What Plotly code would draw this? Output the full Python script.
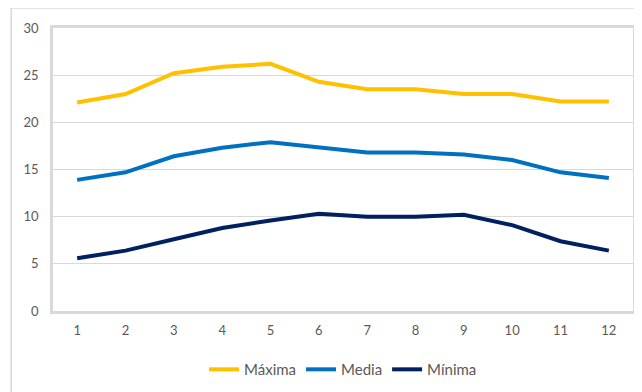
import plotly.graph_objects as go

months = [1, 2, 3, 4, 5, 6, 7, 8, 9, 10, 11, 12]
maxima = [22.1, 23.0, 25.2, 25.9, 26.2, 24.3, 23.5, 23.5, 23.0, 23.0, 22.2, 22.2]
media = [13.9, 14.7, 16.4, 17.3, 17.9, 17.4, 16.8, 16.8, 16.6, 16.0, 14.7, 14.1]
minima = [5.6, 6.4, 7.6, 8.8, 9.6, 10.3, 10.0, 10.0, 10.2, 9.1, 7.4, 6.4]

series = [("Máxima", maxima, "#FFC000"),
          ("Media", media, "#0070C0"),
          ("Mínima", minima, "#002060")]

font = "Lato, Carlito, 'Open Sans', sans-serif"

fig = go.Figure()
for name, vals, color in series:
    fig.add_trace(go.Scatter(x=[str(m) for m in months], y=vals, name=name,
                             mode="lines", line=dict(color=color, width=4)))

# page body adds an 8px offset, so the figure is drawn 8px smaller
W, H = 634, 384
l, r, t, b = 45, 6, 20, 80
pw, ph = W - l - r, H - t - b

fig.update_layout(
    width=W, height=H,
    margin=dict(l=l, r=r, t=t, b=b),
    paper_bgcolor="white", plot_bgcolor="white",
    font=dict(family=font, size=13, color="#595959"),
    showlegend=True,
    legend=dict(orientation="h", x=0.5, xanchor="center", y=-0.207, yanchor="middle",
                font=dict(size=15, color="#595959"), itemwidth=30,
                tracegroupgap=0),
    xaxis=dict(type="category", range=[-0.5, 11.5], showgrid=False,
               showline=True, mirror=True,
               linecolor="#D9D9D9", linewidth=2.5, ticks="outside", ticklen=6,
               tickcolor="white",
               tickfont=dict(size=13, color="#595959"), zeroline=False),
    yaxis=dict(range=[0, 30], dtick=5, showgrid=True, gridcolor="#D9D9D9",
               gridwidth=1, showline=True, mirror=True, linecolor="#D9D9D9",
               linewidth=2.5, ticks="outside", ticklen=9, tickcolor="white",
               tickfont=dict(size=13, color="#595959"), zeroline=False),
)

# outer chart border
fig.add_shape(type="rect", xref="paper", yref="paper",
              x0=(3 - l) / pw, x1=(W + 5 - l) / pw,
              y0=-(H + 5 - (H - b)) / ph, y1=1 + t / ph,
              line=dict(color="#D9D9D9", width=1.5), layer="below")

fig.write_html("out.html")
